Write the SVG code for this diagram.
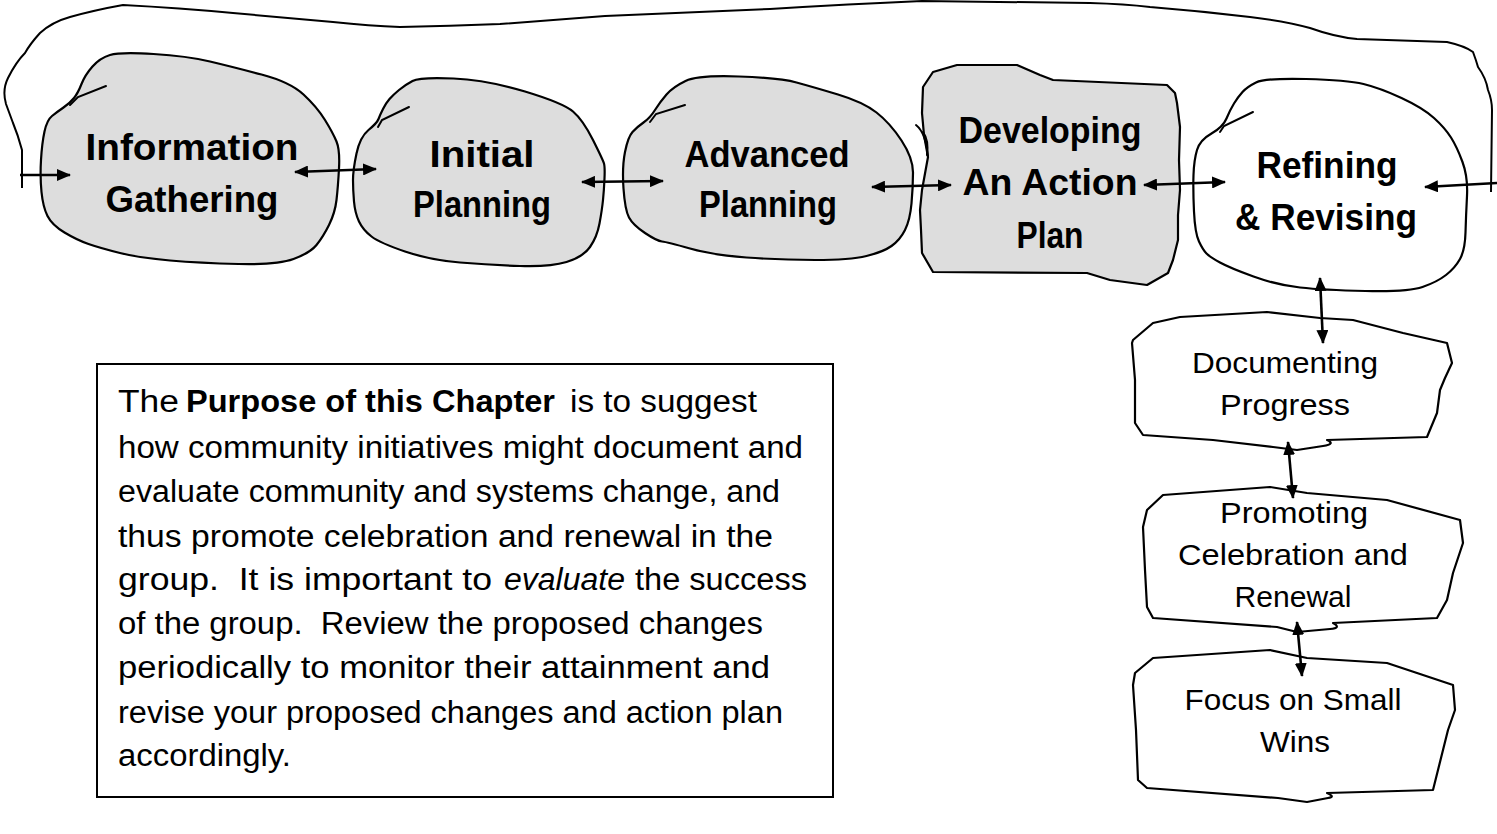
<svg xmlns="http://www.w3.org/2000/svg" width="1497" height="834" viewBox="0 0 1497 834">
<defs>
<marker id="ah" viewBox="0 0 14 12" refX="13" refY="6" markerWidth="14" markerHeight="12" markerUnits="userSpaceOnUse" orient="auto-start-reverse">
<path d="M0,0 L14,6 L0,12 Z" fill="#000"/>
</marker>
</defs>
<style>
.blob{stroke:#000;stroke-width:2.2;stroke-linejoin:round;fill:#dddddd}
.white{fill:#fff}
.hook{fill:none;stroke:#000;stroke-width:2;stroke-linecap:round}
.lbl{font-family:"Liberation Sans",Arial,sans-serif;font-weight:bold;font-size:37px;text-anchor:middle;fill:#000}
.sm{font-family:"Liberation Sans",Arial,sans-serif;font-size:30px;text-anchor:middle;fill:#000}
.bt{font-family:"Liberation Sans",Arial,sans-serif;font-size:31px;fill:#000}
.conn{fill:none;stroke:#000;stroke-width:2.6}
.loop{fill:none;stroke:#000;stroke-width:2;stroke-linejoin:round}
</style>

<g id="node-information-gathering">
<path class="blob" d="M153.5,54 Q187,56 210,61.5 Q233,67 261.5,74.5 Q290,82 303.5,94.5 Q317,107 325,120 Q333,133 336.5,141.5 Q340,150 339,168.5 Q338,187 336.5,200 Q335,213 329,225 Q323,237 316.5,245 Q310,253 293.5,259 Q277,265 238.5,264 Q200,263 170,260.5 Q140,258 120,253 Q100,248 88.5,244 Q77,240 64.5,232.5 Q52,225 47.5,216 Q43,207 41.5,192 Q40,177 41,160 Q42,143 44.5,131.5 Q47,120 52,116 Q57,112 63.5,107.5 Q70,103 74,98 Q78,93 81.5,84 Q85,75 92.5,66.5 Q100,58 110,55 Q120,52 153.5,54 Z"/>
<path class="hook" d="M106,86 L78,97 L70,105"/>
<text class="lbl" x="192" y="160" textLength="213" lengthAdjust="spacingAndGlyphs">Information</text>
<text class="lbl" x="192" y="212" textLength="173" lengthAdjust="spacingAndGlyphs">Gathering</text>
</g>

<g id="node-initial-planning">
<path class="blob" d="M453.5,78.5 Q487,80 525,91.5 Q563,103 573,111.5 Q583,120 593,140 Q603,160 604,163.5 Q605,167 604.5,178.5 Q604,190 603,200 Q602,210 599.5,223.5 Q597,237 590,247 Q583,257 566.5,262 Q550,267 520,266 Q490,265 460,262.5 Q430,260 405,251.5 Q380,243 371.5,236.5 Q363,230 359,221.5 Q355,213 354,201.5 Q353,190 353,180 Q353,170 356.5,153.5 Q360,137 368.5,130 Q377,123 378.5,119 Q380,115 383,109 Q386,103 389.5,99 Q393,95 399,90 Q405,85 412.5,81 Q420,77 453.5,78.5 Z"/>
<path class="hook" d="M409,107 L382,120 L378,127"/>
<text class="lbl" x="482" y="167" textLength="105" lengthAdjust="spacingAndGlyphs">Initial</text>
<text class="lbl" x="482" y="217" textLength="138" lengthAdjust="spacingAndGlyphs">Planning</text>
</g>

<g id="node-advanced-planning">
<path class="blob" d="M739,76.5 Q780,78 796.5,82.5 Q813,87 838,94.5 Q863,102 876.5,112.5 Q890,123 901.5,140.5 Q913,158 913,172.5 Q913,187 911.5,203.5 Q910,220 905,230 Q900,240 891.5,246 Q883,252 866.5,256 Q850,260 815,260 Q780,260 746.5,257.5 Q713,255 690,248.5 Q667,242 662,241.5 Q657,241 645,233 Q633,225 629,217.5 Q625,210 623.5,188.5 Q622,167 625,152 Q628,137 632.5,132 Q637,127 643.5,122.5 Q650,118 655,110 Q660,102 666.5,94.5 Q673,87 685.5,81 Q698,75 739,76.5 Z"/>
<path class="hook" d="M685,105 L656,114 L650,122"/>
<text class="lbl" x="767" y="167" textLength="165" lengthAdjust="spacingAndGlyphs">Advanced</text>
<text class="lbl" x="768" y="217" textLength="138" lengthAdjust="spacingAndGlyphs">Planning</text>
</g>

<g id="node-developing-action-plan">
<path class="blob" d="M957,65 L1017,65 L1040,75 L1053,80 L1167,85 L1175,93 L1177,103 L1180,127 L1179,160 L1180,190 L1178,215 L1178,240 L1173,260 L1168,273 L1147,285 L1110,280 L1087,273 L933,272 L922,253 L921,230 L920,210 L922,190 L928,157 L924,135 L922,113 L923,87 L933,72 Z"/>
<path class="hook" d="M916,125 Q926,133 928,157" stroke-width="1.6"/>
<path class="hook" d="M923,132 Q929,140 927,155" stroke-width="1.2" stroke="#555"/>
<text class="lbl" x="1050" y="143" textLength="183" lengthAdjust="spacingAndGlyphs">Developing</text>
<text class="lbl" x="1050" y="195" textLength="175" lengthAdjust="spacingAndGlyphs">An Action</text>
<text class="lbl" x="1050" y="248" textLength="67" lengthAdjust="spacingAndGlyphs">Plan</text>
</g>

<g id="node-refining-revising">
<path class="blob white" d="M1306,79 Q1347,80 1363.5,84 Q1380,88 1401.5,98 Q1423,108 1434,118 Q1445,128 1451,137.5 Q1457,147 1462.5,162 Q1468,177 1467,196 Q1466,215 1465.5,232.5 Q1465,250 1460,259 Q1455,268 1446,275 Q1437,282 1422.5,287 Q1408,292 1365.5,291 Q1323,290 1300,287.5 Q1277,285 1253.5,276.5 Q1230,268 1220,262.5 Q1210,257 1206.5,253.5 Q1203,250 1199,241.5 Q1195,233 1194,211.5 Q1193,190 1193.5,175 Q1194,160 1197,150 Q1200,140 1211.5,133.5 Q1223,127 1226.5,118.5 Q1230,110 1234,103.5 Q1238,97 1242.5,92 Q1247,87 1256,82.5 Q1265,78 1306,79 Z"/>
<path class="hook" d="M1253,112 L1224,126 L1220,132"/>
<text class="lbl" x="1327" y="178" textLength="141" lengthAdjust="spacingAndGlyphs">Refining</text>
<text class="lbl" x="1326" y="230" textLength="182" lengthAdjust="spacingAndGlyphs">&amp; Revising</text>
</g>

<g id="node-documenting-progress">
<path class="blob white" d="M1133,340 L1153,323 L1180,317 L1267,312 L1320,318 L1353,320 L1403,333 L1447,343 L1452,363 L1445,378 L1440,390 L1437,413 L1427,437 L1327,440 Q1336,444 1323,446 L1297,450 L1273,447 L1213,440 L1143,435 L1135,423 L1135,380 L1132,343 Z"/>
<text class="sm" x="1285" y="373" textLength="186" lengthAdjust="spacingAndGlyphs">Documenting</text>
<text class="sm" x="1285" y="415" textLength="130" lengthAdjust="spacingAndGlyphs">Progress</text>
</g>

<g id="node-promoting-celebration">
<path class="blob white" d="M1147,510 L1163,495 L1270,487 L1307,493 L1387,500 L1460,520 L1463,543 L1453,573 L1447,600 L1437,618 L1333,623 Q1342,628 1330,629 L1297,632 L1277,627 L1153,618 L1147,607 L1145,570 L1143,527 Z"/>
<text class="sm" x="1294" y="523" textLength="148" lengthAdjust="spacingAndGlyphs">Promoting</text>
<text class="sm" x="1293" y="565" textLength="230" lengthAdjust="spacingAndGlyphs">Celebration and</text>
<text class="sm" x="1293" y="607" textLength="117" lengthAdjust="spacingAndGlyphs">Renewal</text>
</g>

<g id="node-focus-small-wins">
<path class="blob white" d="M1135,673 L1153,658 L1270,650 L1307,658 L1387,663 L1453,685 L1455,710 L1448,730 L1443,750 L1433,790 L1327,793 Q1336,797 1328,798 L1307,802 L1278,798 L1147,788 L1138,780 L1136,730 L1133,685 Z"/>
<text class="sm" x="1293" y="710" textLength="217" lengthAdjust="spacingAndGlyphs">Focus on Small</text>
<text class="sm" x="1295" y="752" textLength="70" lengthAdjust="spacingAndGlyphs">Wins</text>
</g>

<g id="node-purpose-text">
<rect x="97" y="364" width="736" height="433" fill="#fff" stroke="#000" stroke-width="2"/>
<text class="bt" x="118" y="412" textLength="61" lengthAdjust="spacingAndGlyphs">The</text>
<text class="bt" x="186" y="412" font-weight="bold" textLength="369" lengthAdjust="spacingAndGlyphs">Purpose of this Chapter</text>
<text class="bt" x="570" y="412" textLength="187" lengthAdjust="spacingAndGlyphs">is to suggest</text>
<text class="bt" x="118" y="458" textLength="685" lengthAdjust="spacingAndGlyphs">how community initiatives might document and</text>
<text class="bt" x="118" y="502" textLength="662" lengthAdjust="spacingAndGlyphs">evaluate community and systems change, and</text>
<text class="bt" x="118" y="547" textLength="655" lengthAdjust="spacingAndGlyphs">thus promote celebration and renewal in the</text>
<text class="bt" x="118" y="590" xml:space="preserve" textLength="374" lengthAdjust="spacingAndGlyphs">group.  It is important to</text>
<text class="bt" x="504" y="590" font-style="italic" textLength="121" lengthAdjust="spacingAndGlyphs">evaluate</text>
<text class="bt" x="635" y="590" textLength="172" lengthAdjust="spacingAndGlyphs">the success</text>
<text class="bt" x="118" y="634" xml:space="preserve" textLength="645" lengthAdjust="spacingAndGlyphs">of the group.  Review the proposed changes</text>
<text class="bt" x="118" y="678" textLength="652" lengthAdjust="spacingAndGlyphs">periodically to monitor their attainment and</text>
<text class="bt" x="118" y="723" textLength="665" lengthAdjust="spacingAndGlyphs">revise your proposed changes and action plan</text>
<text class="bt" x="118" y="766" textLength="173" lengthAdjust="spacingAndGlyphs">accordingly.</text>
</g>

<g id="connectors">
<path class="loop" d="M22,188 L22,150 Q18,135 13,123 L6,104 Q2,90 8,78 Q16,62 25,53 Q30,44 40,33 Q52,22 70,17 Q95,10 123,5 Q180,8 233,13 L333,22 Q370,26 400,27 Q450,26 500,24 L605,16 L770,9 Q850,4 922,1 L1090,3 Q1125,4 1150,7 Q1200,11 1250,17 Q1285,21 1310,28 Q1335,37 1357,39 L1447,42 Q1465,46 1473,52 Q1476,60 1478,67 Q1486,78 1488,90 Q1492,100 1492,110 L1491,192"/>
<path class="conn" d="M20,175 L70,175" marker-end="url(#ah)"/>
<path class="conn" d="M295,172 L376,169" marker-start="url(#ah)" marker-end="url(#ah)"/>
<path class="conn" d="M582,182 L663,181" marker-start="url(#ah)" marker-end="url(#ah)"/>
<path class="conn" d="M872,187 L951,185" marker-start="url(#ah)" marker-end="url(#ah)"/>
<path class="conn" d="M1144,185 L1225,182" marker-start="url(#ah)" marker-end="url(#ah)"/>
<path class="conn" d="M1497,183 L1425,187" marker-end="url(#ah)"/>
<path class="conn" d="M1320,278 L1323,343" marker-start="url(#ah)" marker-end="url(#ah)"/>
<path class="conn" d="M1288,442 L1293,498" marker-start="url(#ah)" marker-end="url(#ah)"/>
<path class="conn" d="M1297,622 L1302,676" marker-start="url(#ah)" marker-end="url(#ah)"/>
</g>
</svg>
